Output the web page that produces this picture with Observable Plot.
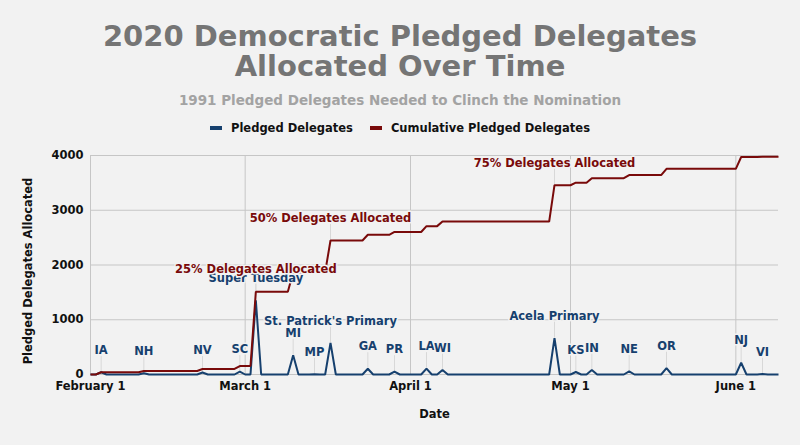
<!DOCTYPE html>
<html><head><meta charset="utf-8">
<script src="https://cdn.jsdelivr.net/npm/d3@7"></script>
<script src="https://cdn.jsdelivr.net/npm/@observablehq/plot@0.6"></script>
<style>
html,body{margin:0;padding:0;background:#f2f2f2;}
#wrap{position:relative;width:800px;height:445px;background:#f2f2f2;font-family:"DejaVu Sans",sans-serif;font-weight:bold;overflow:hidden}
#title{position:absolute;left:0;top:21px;width:800px;text-align:center;font-size:29px;line-height:30px;color:#757575}
#subtitle{position:absolute;left:0;top:92px;width:800px;text-align:center;font-size:13.5px;line-height:16px;color:#a3a3a3}
#legend{position:absolute;left:0;top:121px;width:800px;display:flex;justify-content:center;align-items:center;font-size:11.5px;line-height:14px;color:#111}
.item{display:flex;align-items:center}
.item + .item{margin-left:17px}
.sw{width:12px;height:4px;margin-right:9px}
#chart{position:absolute;left:0;top:145px}
</style></head>
<body>
<div id="wrap">
  <div id="title">2020 Democratic Pledged Delegates<br>Allocated Over Time</div>
  <div id="subtitle">1991 Pledged Delegates Needed to Clinch the Nomination</div>
  <div id="legend">
    <div class="item"><div class="sw" style="background:#16406e"></div>Pledged Delegates</div>
    <div class="item"><div class="sw" style="background:#790a0a"></div>Cumulative Pledged Delegates</div>
  </div>
  <div id="chart"></div>
</div>
<script>
// ---- data ----
const startDate = "2020-02-01";
const endDate = "2020-06-09";
const eventDates = ["2020-02-03","2020-02-11","2020-02-22","2020-02-29","2020-03-03","2020-03-10","2020-03-14","2020-03-17","2020-03-24","2020-03-29","2020-04-04","2020-04-07","2020-04-28","2020-05-02","2020-05-05","2020-05-12","2020-05-19","2020-06-02","2020-06-06"];
const eventLabels = ["IA","NH","NV","SC","Super Tuesday","MI","MP","St. Patrick's Primary","GA","PR","LA","WI","Acela Primary","KS","IN","NE","OR","NJ","VI"];
const pledgedDelegates = [41,24,36,54,1357,352,6,577,105,51,107,84,663,46,82,57,115,215,7];
const milestoneDates = ["2020-03-03","2020-03-17","2020-04-28"];
const milestoneLabels = ["25% Delegates Allocated","50% Delegates Allocated","75% Delegates Allocated"];
const xTickDates = ["2020-02-01","2020-03-01","2020-04-01","2020-05-01","2020-06-01"];
const yTicks = [0,1000,2000,3000,4000];

const BLUE = "#16406e", RED = "#790a0a", BG = "#f2f2f2";

const parse = d3.utcParse("%Y-%m-%d");
const events = eventDates.map((d,i)=>({date: parse(d), label: eventLabels[i], value: pledgedDelegates[i]}));
const byDay = new Map(events.map(e=>[+e.date, e.value]));
const days = d3.utcDay.range(parse(startDate), d3.utcDay.offset(parse(endDate),1));
let run = 0;
const daily = days.map(d => { const v = byDay.get(+d) || 0; run += v; return {date:d, pledged:v, cumulative:run}; });
const cumByDay = new Map(daily.map(d=>[+d.date, d.cumulative]));
const milestones = milestoneDates.map((d,i)=>({date: parse(d), label: milestoneLabels[i], value: cumByDay.get(+parse(d))}));
const xTicks = xTickDates.map(parse);

const chart = Plot.plot({
  width: 800, height: 300,
  marginTop: 10, marginRight: 22, marginBottom: 71, marginLeft: 90,
  style: {background: "transparent", fontFamily: "DejaVu Sans, sans-serif", fontSize: "11.5px", fontWeight: "bold", color: "#111", overflow: "visible"},
  x: {type: "utc", domain: [parse(startDate), parse(endDate)], ticks: xTicks, tickFormat: d3.utcFormat("%B %-d"), tickSize: 0, tickPadding: 7, label: null},
  y: {domain: [0, 4000], ticks: yTicks, tickFormat: d3.format("d"), tickSize: 0, tickPadding: 7, label: null},
  marks: [
    Plot.ruleX(xTicks, {stroke: "#c6c6c6"}),
    Plot.ruleY(yTicks, {stroke: "#c6c6c6"}),
    Plot.ruleX(events, {x: "date", y1: "value", y2: "value", insetTop: -16, stroke: "#d8d8d8"}),
    Plot.ruleX(milestones, {x: "date", y1: "value", y2: "value", insetTop: -16, stroke: "#d8d8d8"}),
    Plot.line(daily, {x: "date", y: "pledged", stroke: BLUE, strokeWidth: 2, strokeLinejoin: "miter", strokeLinecap: "butt"}),
    Plot.line(daily, {x: "date", y: "cumulative", stroke: RED, strokeWidth: 2, strokeLinejoin: "miter", strokeLinecap: "butt"}),
    Plot.text(events, {x: "date", y: "value", text: "label", dy: -22, fill: BLUE, stroke: BG, strokeWidth: 3}),
    Plot.text(milestones, {x: "date", y: "value", text: "label", dy: -22, fill: RED, stroke: BG, strokeWidth: 3}),
    Plot.text(["Date"], {frameAnchor: "bottom", textAnchor: "middle", lineAnchor: "middle", dy: 40, fill: "#111"}),
    Plot.text(["Pledged Delegates Allocated"], {frameAnchor: "left", textAnchor: "middle", lineAnchor: "middle", rotate: -90, dx: -62, dy: 6, fill: "#111"})
  ]
});
document.getElementById("chart").appendChild(chart);
</script>
</body></html>
